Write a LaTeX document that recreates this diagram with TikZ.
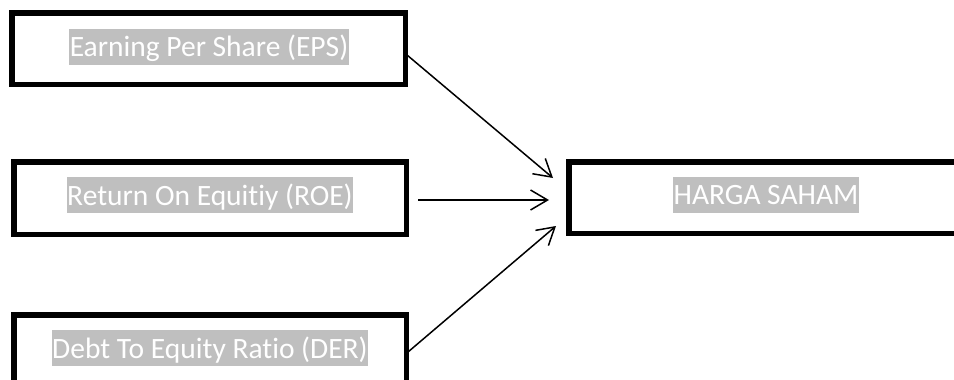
\documentclass[tikz,border=0pt]{standalone}
\usepackage{fontspec}
\setmainfont[RawFeature={-liga}]{Carlito}
\usetikzlibrary{arrows.meta}
\definecolor{hl}{HTML}{BFBFBF}
\begin{document}
\begin{tikzpicture}[x=1pt,y=-1pt,
  boxstyle/.style={draw=black,line width=5.5pt,inner sep=0pt,outer sep=0pt,rectangle},
  labelstyle/.style={fill=hl,text=white,inner xsep=0.5pt,inner ysep=0pt,text height=28pt,text depth=8pt,
    font=\fontsize{29.5}{36}\selectfont},
  arrowstyle/.style={line width=1.5pt,-{Straight Barb[length=17pt,width=20pt,line width=1.5pt]}}]
\useasboundingbox (0,0) rectangle (954,380);
\clip (0,0) rectangle (954,380);
\fill[white] (0,0) rectangle (954,380);
% boxes
\node[boxstyle,minimum width=393.5pt,minimum height=71.5pt] (eps) at (208.5,48.5) {};
\node[boxstyle,minimum width=392.5pt,minimum height=72.5pt] (roe) at (210,198) {};
\node[boxstyle,minimum width=392.5pt,minimum height=71.5pt] (der) at (210,350.5) {};
\node[boxstyle,minimum width=394.5pt,minimum height=71.5pt] (harga) at (766,197.5) {};
% labels
\node[labelstyle] (epst) at (209,46.5) {Earning Per Share (EPS)};
\node[labelstyle] (roet) at (210,195) {Return On Equitiy (ROE)};
\node[labelstyle] (dert) at (210,348) {Debt To Equity Ratio (DER)};
\node[labelstyle] (hargat) at (766,194.7) {HARGA SAHAM};
% connector end points
\coordinate (a1s) at (407,55);
\coordinate (a1e) at (553,178);
\coordinate (a2s) at (418,200);
\coordinate (a2e) at (549,200);
\coordinate (a3s) at (408,352);
\coordinate (a3e) at (556,226);
\draw[arrowstyle] (a1s) -- (a1e);
\draw[arrowstyle] (a2s) -- (a2e);
\draw[arrowstyle] (a3s) -- (a3e);
\end{tikzpicture}
\end{document}
